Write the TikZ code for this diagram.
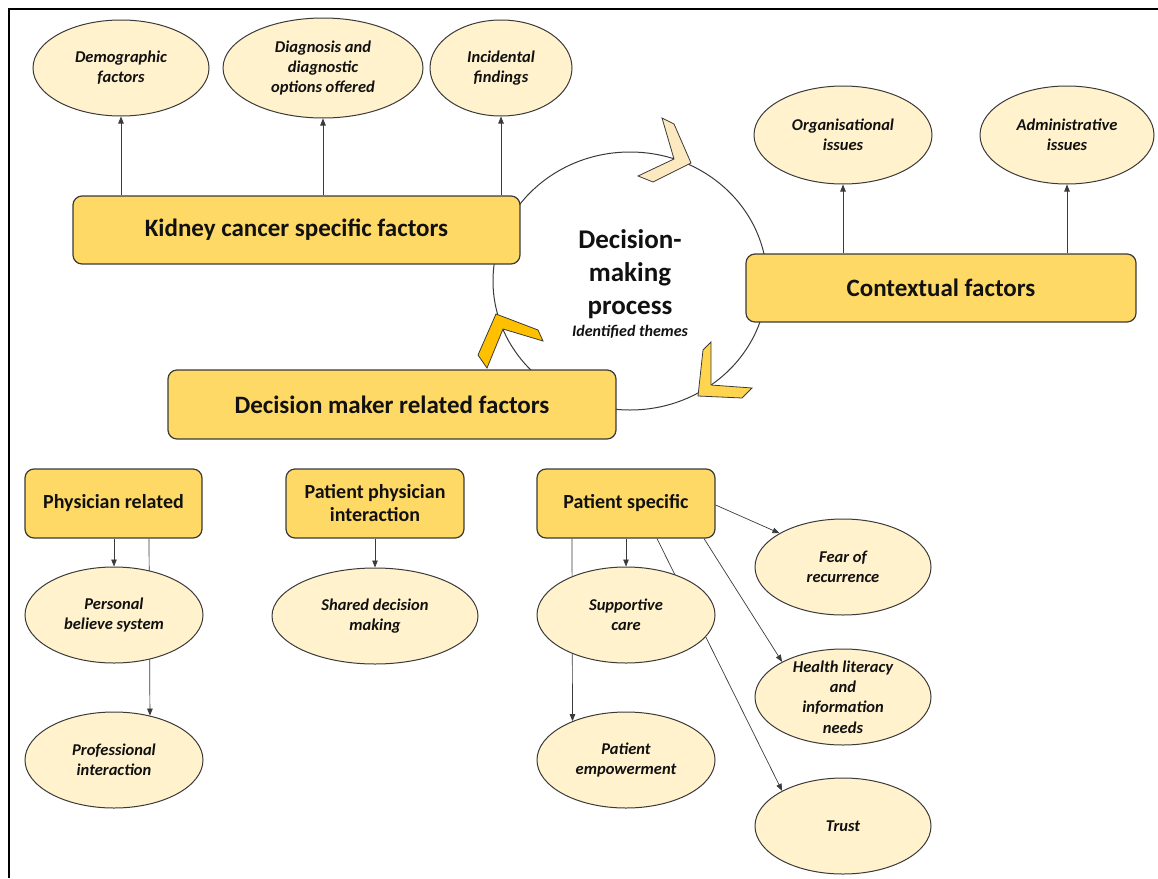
\documentclass[tikz,border=0pt]{standalone}
\usepackage{fontspec}
\setmainfont{Carlito}
\usetikzlibrary{shapes.geometric,arrows.meta,calc}
\definecolor{boxfill}{HTML}{FFD966}
\definecolor{ellfill}{HTML}{FFF2CC}
\definecolor{chevlight}{HTML}{FDE9C0}
\definecolor{chevdark}{HTML}{FFC000}
\definecolor{chevmid}{HTML}{FFD54F}
\definecolor{linec}{HTML}{3A3A3A}
\definecolor{textc}{HTML}{111111}
\newcommand\kfBig{\fontsize{25}{30}\selectfont\bfseries}
\newcommand\kfSub{\fontsize{20}{23}\selectfont\bfseries}
\newcommand\kfEll{\fontsize{16.5}{20.3}\selectfont\bfseries\itshape}
\newcommand\kfCirc{\fontsize{27}{33}\selectfont\bfseries}
\newcommand\kfTheme{\fontsize{16}{19}\selectfont\bfseries\itshape}
\pgfdeclarelayer{bg}
\pgfsetlayers{bg,main}
\begin{document}
\begin{tikzpicture}[x=1pt,y=-1pt,
  mainbox/.style={draw=linec, line width=1.2pt, fill=boxfill, rounded corners=9pt, inner sep=0pt, text=textc, font=\kfBig, align=center},
  subbox/.style={mainbox, font=\kfSub},
  ell/.style={ellipse, draw=linec, line width=1pt, fill=ellfill, inner sep=0pt},
  elltext/.style={font=\kfEll, align=center, text=textc, inner sep=0pt},
  arr/.style={draw=linec, line width=0.7pt, -{Triangle[length=7pt,width=5.5pt]}},
  chev/.style={draw=linec, line width=0.8pt, line join=miter}
]
\useasboundingbox (0,0) rectangle (1158,878);
\draw[line width=1.4pt] (9,878) -- (9,9) -- (1158,9);

% cycle circle
\begin{pgfonlayer}{bg}
\node[ellipse, draw=linec, line width=1pt, minimum width=274pt, minimum height=258pt, inner sep=0pt] (cyc) at (630,281) {};
\end{pgfonlayer}

% chevrons
\filldraw[chev, fill=chevlight] (662,118) -- (674,124) -- (691,163) -- (653,182) -- (638,176) -- (674,159) -- cycle;
\filldraw[chev, fill=chevdark] (496,314) -- (538,330) -- (543,341) -- (503,329) -- (487,368) -- (478,355) -- cycle;
\filldraw[chev, fill=chevmid] (703,350) -- (711,342) -- (711,385) -- (752,388) -- (742,398) -- (698,396) -- cycle;

\node[font=\kfCirc, align=center, text=textc] (cyct) at (630,274) {Decision-\\making\\process};
\node[font=\kfTheme, text=textc] (theme) at (630,332) {Identified themes};

% main boxes
\node[mainbox, minimum width=447pt, minimum height=68pt] (kcs) at (296.5,230) {Kidney cancer specific factors};
\node[mainbox, minimum width=390pt, minimum height=68pt] (ctx) at (941,288) {Contextual factors};
\node[mainbox, minimum width=448pt, minimum height=69pt] (dmr) at (392,404.5) {Decision maker related factors};
\node[subbox, minimum width=177pt, minimum height=69pt] (phr) at (113.5,503.5) {Physician related};
\node[subbox, minimum width=178pt, minimum height=69pt] (ppi) at (375,503.5) {Patient physician\\interaction};
\node[subbox, minimum width=178pt, minimum height=69pt] (pts) at (626,503.5) {Patient specific};

% ellipses
\node[ell, minimum width=176pt, minimum height=96pt] (demo) at (121,68) {};
\node[elltext] (demo-t) at (demo) {Demographic\\factors};
\node[ell, minimum width=200pt, minimum height=100pt] (diag) at (323,68) {};
\node[elltext] (diag-t) at (diag) {Diagnosis and\\diagnostic\\options offered};
\node[ell, minimum width=142pt, minimum height=96pt] (inc) at (501,68) {};
\node[elltext] (inc-t) at (inc) {Incidental\\findings};
\node[ell, minimum width=178pt, minimum height=98pt] (org) at (843,135) {};
\node[elltext] (org-t) at (org) {Organisational\\issues};
\node[ell, minimum width=174pt, minimum height=98pt] (adm) at (1067,135) {};
\node[elltext] (adm-t) at (adm) {Administrative\\issues};
\node[ell, minimum width=178pt, minimum height=96pt] (pbs) at (114,615) {};
\node[elltext] (pbs-t) at (pbs) {Personal\\believe system};
\node[ell, minimum width=178pt, minimum height=96pt] (pin) at (114,760) {};
\node[elltext] (pin-t) at (pin) {Professional\\interaction};
\node[ell, minimum width=206pt, minimum height=96pt] (sdm) at (375,616) {};
\node[elltext] (sdm-t) at (sdm) {Shared decision\\making};
\node[ell, minimum width=178pt, minimum height=96pt] (sup) at (626,615) {};
\node[elltext] (sup-t) at (sup) {Supportive\\care};
\node[ell, minimum width=178pt, minimum height=96pt] (pem) at (626,760) {};
\node[elltext] (pem-t) at (pem) {Patient\\empowerment};
\node[ell, minimum width=176pt, minimum height=96pt] (fear) at (843,567) {};
\node[elltext] (fear-t) at (fear) {Fear of\\recurrence};
\node[ell, minimum width=176pt, minimum height=96pt] (hl) at (843,697) {};
\node[elltext] (hl-t) at (hl) {Health literacy\\and\\information\\needs};
\node[ell, minimum width=176pt, minimum height=96pt] (trust) at (843,826) {};
\node[elltext] (trust-t) at (trust) {Trust};

% connectors
\begin{pgfonlayer}{bg}
\draw[arr] (kcs.north -| demo) -- (demo.south);
\draw[arr] (kcs.north -| diag) -- (diag.south);
\draw[arr] (kcs.north -| inc) -- (inc.south);
\draw[arr] (ctx.north -| org) -- (org.south);
\draw[arr] (ctx.north -| adm) -- (adm.south);
\draw[arr] (phr.south -| pbs) -- (pbs.north);
\draw[arr] ($(phr.south)+(35.5,0)$) -- (pin.51);
\draw[arr] (ppi.south -| sdm) -- (sdm.north);
\draw[arr] (pts.south -| sup) -- (sup.north);
\draw[arr] ($(pts.south)+(-54,0)$) -- (pem.144.7);
\draw[arr] ($(pts.south)+(31,0)$) -- (trust.150);
\draw[arr] ($(pts.south)+(78,0)$) -- (hl.150);
\draw[arr] ($(pts.east)+(0,1.5)$) -- (fear.152);
\end{pgfonlayer}
\end{tikzpicture}
\end{document}
